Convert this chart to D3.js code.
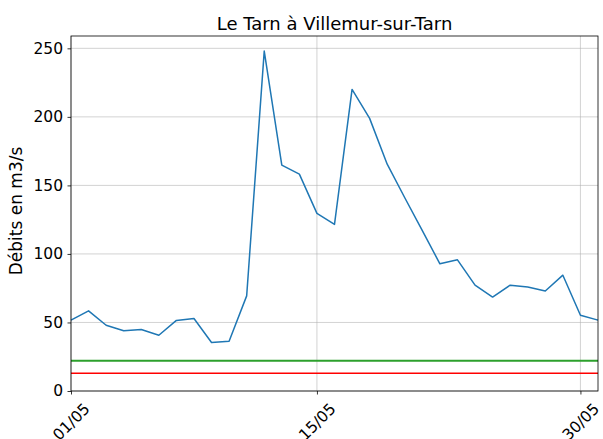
<!DOCTYPE html>
<meta charset="utf-8">
<html>
<head>
<title>Le Tarn</title>
<style>
body { margin: 0; background: #fff; }
text { font-family: "DejaVu Sans", sans-serif; fill: #000; }
.tick text { font-size: 15.5px; }
.grid line { stroke: #b0b0b0; stroke-opacity: 0.7; stroke-width: 0.8; }
</style>
</head>
<body>
<svg width="603" height="439"></svg>
<script src="https://d3js.org/d3.v7.min.js"></script>
<script>

// daily discharge, May (m3/s)
var days = d3.range(1, 32);
var debits = [51.7, 58.5, 48, 43.9, 44.9, 40.7, 51.5, 52.9, 35.4, 36.3,
              69.4, 248, 164.8, 158.2, 129.6, 121.5, 220, 198.9, 165.5, 141,
              117, 92.8, 95.7, 77.2, 68.5, 77.2, 75.8, 73, 84.5, 55.3, 51.7];
var seuils = [22, 13];
var seuilColors = ["#2ca02c", "#ff0000"];
var xTickDays = [1, 15, 30];
var yTicks = [0, 50, 100, 150, 200, 250];

var svg = d3.select("svg"),
    margin = {top: 36, right: 5, bottom: 48, left: 71},
    width = 603 - margin.left - margin.right,
    height = 439 - margin.top - margin.bottom;

var dates = days.map(function(d) { return new Date(2022, 4, d); });

var x = d3.scaleTime()
    .domain([dates[0], dates[dates.length - 1]])
    .range([0, width]);

var y = d3.scaleLinear()
    .domain([0, 259])
    .range([height, 0]);

var g = svg.append("g").attr("transform", "translate(" + margin.left + "," + margin.top + ")");

// grid
g.append("g").attr("class", "grid")
  .selectAll("line").data(yTicks).enter().append("line")
    .attr("x1", 0).attr("x2", width)
    .attr("y1", function(d) { return y(d); }).attr("y2", function(d) { return y(d); });

g.append("g").attr("class", "grid")
  .selectAll("line").data(xTickDays).enter().append("line")
    .attr("y1", 0).attr("y2", height)
    .attr("x1", function(d) { return x(new Date(2022, 4, d)); })
    .attr("x2", function(d) { return x(new Date(2022, 4, d)); });

// threshold lines
g.selectAll(".seuil").data(seuils).enter().append("line")
    .attr("class", "seuil")
    .attr("x1", 0).attr("x2", width)
    .attr("y1", function(d) { return y(d); }).attr("y2", function(d) { return y(d); })
    .attr("stroke", function(d, i) { return seuilColors[i]; })
    .attr("stroke-width", function(d, i) { return i == 0 ? 2 : 1.5; });

// discharge line
var line = d3.line()
    .x(function(d, i) { return x(dates[i]); })
    .y(function(d) { return y(d); });

g.append("path")
    .datum(debits)
    .attr("fill", "none")
    .attr("stroke", "#1f77b4")
    .attr("stroke-width", 1.5)
    .attr("stroke-linejoin", "round")
    .attr("d", line);

// axes
var xAxis = g.append("g")
    .attr("transform", "translate(0," + height + ")")
    .call(d3.axisBottom(x)
      .tickValues(xTickDays.map(function(d) { return new Date(2022, 4, d); }))
      .tickFormat(d3.timeFormat("%d/%m"))
      .tickSize(3.5).tickSizeOuter(0));

xAxis.selectAll(".tick text")
    .attr("y", 0).attr("dy", null)
    .attr("text-anchor", "middle")
    .attr("dominant-baseline", "central")
    .attr("transform", "translate(0,31) rotate(-45)");

var yAxis = g.append("g")
    .call(d3.axisLeft(y).tickValues(yTicks).tickSize(3.5).tickPadding(4.5).tickSizeOuter(0));

svg.selectAll(".domain").remove();
svg.selectAll(".tick line").attr("stroke", "#000").attr("stroke-width", 0.8);
svg.selectAll(".tick text").attr("fill", "#000");

// frame
g.append("rect")
    .attr("width", width).attr("height", height)
    .attr("fill", "none").attr("stroke", "#000").attr("stroke-width", 0.8);

// title and labels
svg.append("text")
    .attr("x", margin.left + width / 2).attr("y", 30)
    .attr("text-anchor", "middle")
    .style("font-size", "18px")
    .text("Le Tarn à Villemur-sur-Tarn");

svg.append("text")
    .attr("transform", "translate(22,211) rotate(-90)")
    .attr("text-anchor", "middle")
    .style("font-size", "17px")
    .text("Débits en m3/s");

</script>
</body>
</html>
